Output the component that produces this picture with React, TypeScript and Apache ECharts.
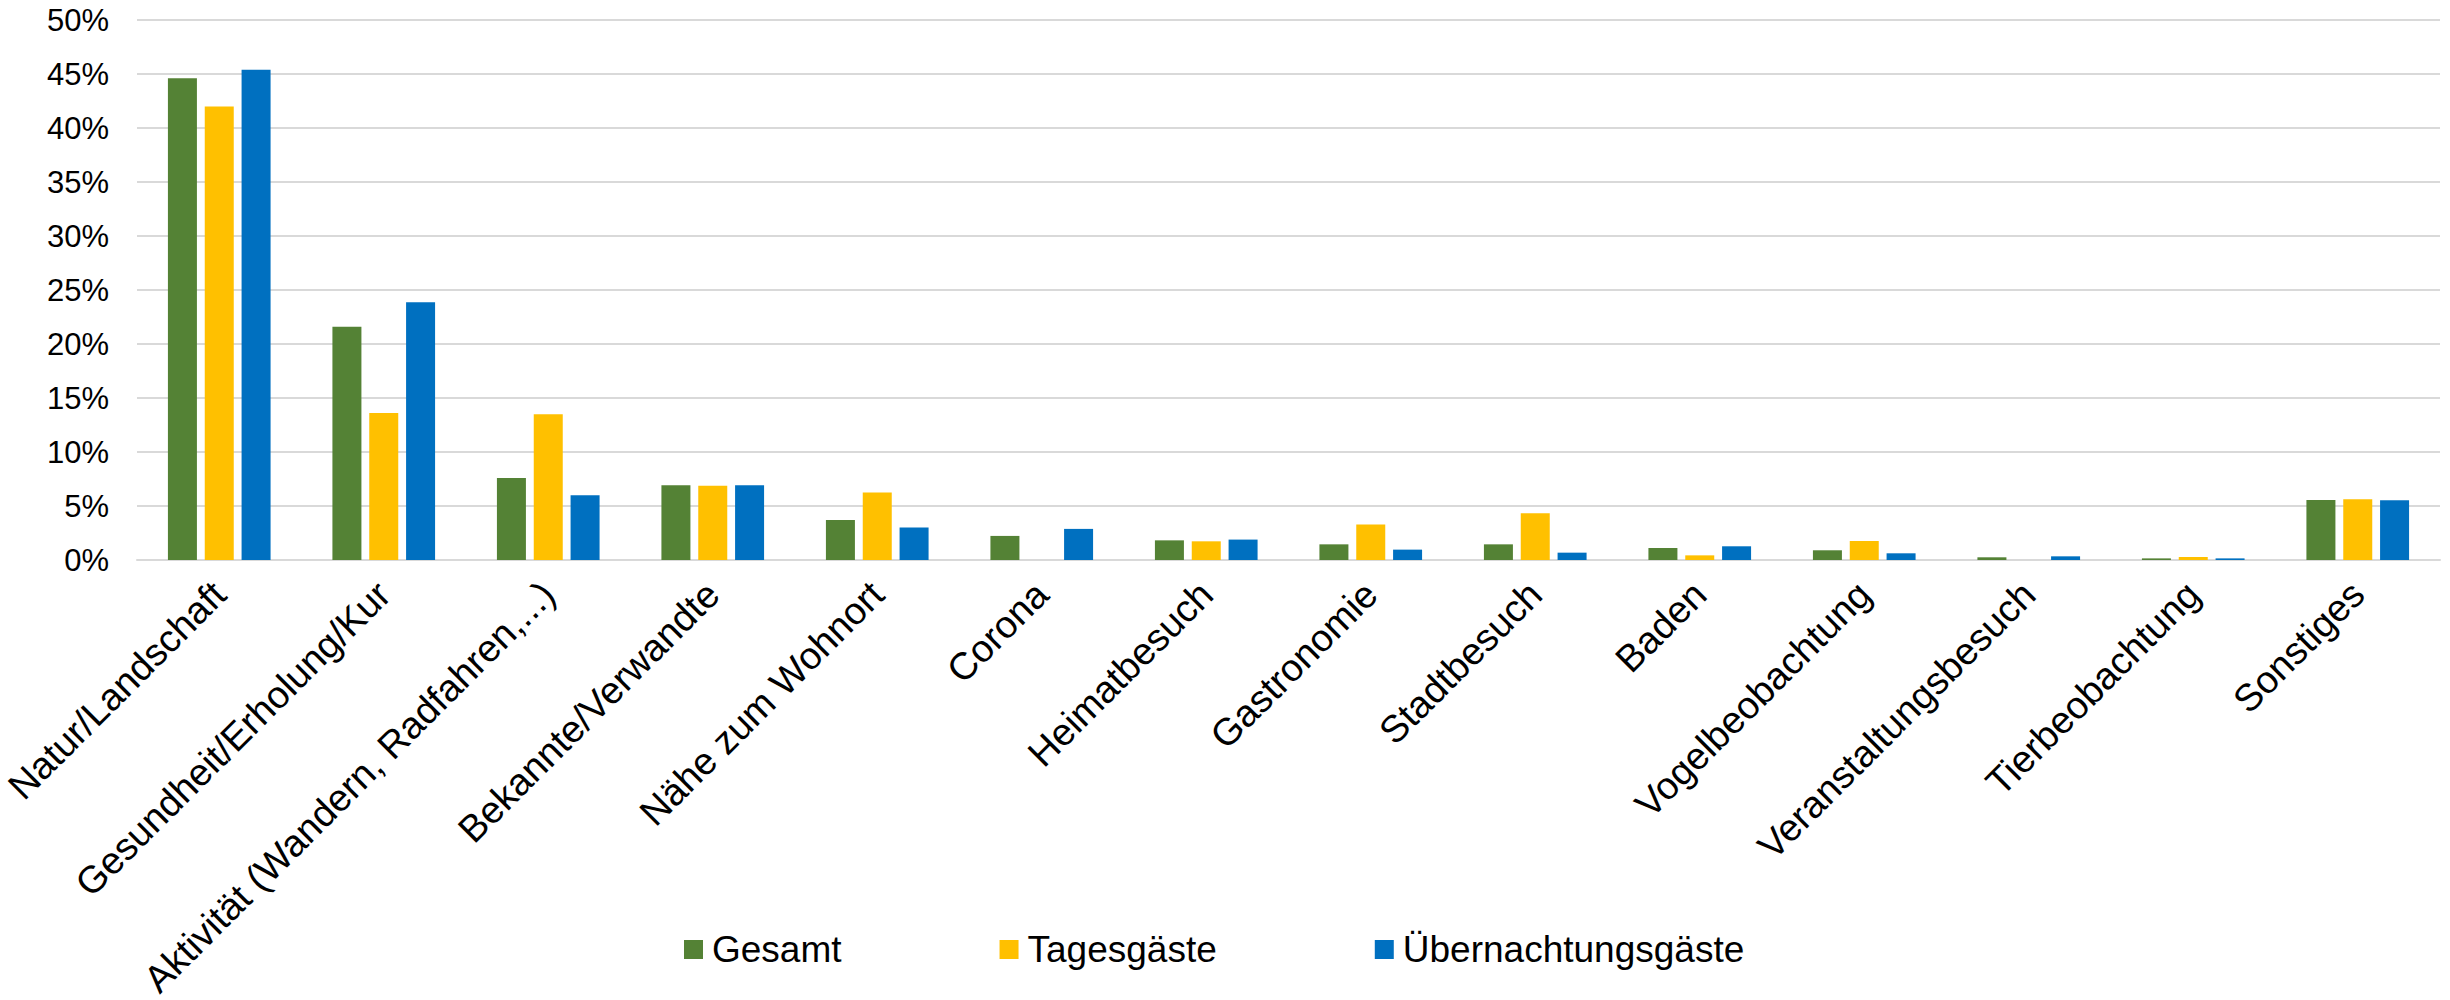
import React, { useEffect, useRef } from "react";
import * as echarts from "echarts";

const categories = [
  "Natur/Landschaft",
  "Gesundheit/Erholung/Kur",
  "Aktivität (Wandern, Radfahren,...)",
  "Bekannte/Verwandte",
  "Nähe zum Wohnort",
  "Corona",
  "Heimatbesuch",
  "Gastronomie",
  "Stadtbesuch",
  "Baden",
  "Vogelbeobachtung",
  "Veranstaltungsbesuch",
  "Tierbeobachtung",
  "Sonstiges",
];

const gesamt = [44.6, 21.6, 7.6, 6.93, 3.7, 2.23, 1.82, 1.45, 1.45, 1.11, 0.9, 0.25, 0.15, 5.56];
const tagesgaeste = [42.0, 13.6, 13.5, 6.87, 6.25, 0, 1.73, 3.28, 4.33, 0.43, 1.76, 0, 0.28, 5.63];
const uebernachtungsgaeste = [45.4, 23.87, 6.0, 6.93, 3.0, 2.88, 1.89, 0.96, 0.68, 1.27, 0.62, 0.34, 0.15, 5.53];

const seriesNames = ["Gesamt", "Tagesgäste", "Übernachtungsgäste"];
const colors = ["#548235", "#FFC000", "#0070C0"];

const FONT = "'Liberation Sans', Arial, sans-serif";

export default function App() {
  const ref = useRef<HTMLDivElement>(null);

  useEffect(() => {
    document.body.style.margin = "0";
    if (!ref.current) return;
    const chart = echarts.init(ref.current, undefined, { renderer: "svg" });
    const data = [gesamt, tagesgaeste, uebernachtungsgaeste];
    chart.setOption({
      animation: false,
      backgroundColor: "#ffffff",
      textStyle: { fontFamily: FONT },
      grid: { left: 137, right: 10, top: 20, bottom: 440, containLabel: false, outerBoundsMode: "none" },
      legend: {
        data: seriesNames,
        left: 679,
        top: 926,
        itemWidth: 19,
        itemHeight: 19,
        itemGap: 158,
        icon: "rect",
        textStyle: { fontSize: 37, color: "#000", fontFamily: FONT, padding: [0, 0, 0, 4] },
      },
      xAxis: {
        type: "category",
        data: categories,
        axisTick: { show: false },
        axisLine: { lineStyle: { color: "#d9d9d9", width: 2 } },
        axisLabel: {
          interval: 0,
          rotate: 45,
          margin: 28,
          verticalAlign: "middle",
          fontSize: 38,
          color: "#000",
          fontFamily: FONT,
        },
      },
      yAxis: {
        type: "value",
        min: 0,
        max: 50,
        interval: 5,
        axisLine: { show: false },
        axisTick: { show: false },
        splitLine: { lineStyle: { color: "#d9d9d9", width: 2 } },
        axisLabel: {
          formatter: "{value}%",
          fontSize: 31,
          color: "#000",
          margin: 28,
          fontFamily: FONT,
        },
      },
      series: seriesNames.map((name, i) => ({
        name,
        type: "bar",
        data: data[i],
        barWidth: 29,
        barGap: "27%",
        itemStyle: { color: colors[i] },
      })),
    });
    return () => chart.dispose();
  }, []);

  return <div ref={ref} style={{ width: 2450, height: 1000 }} />;
}
